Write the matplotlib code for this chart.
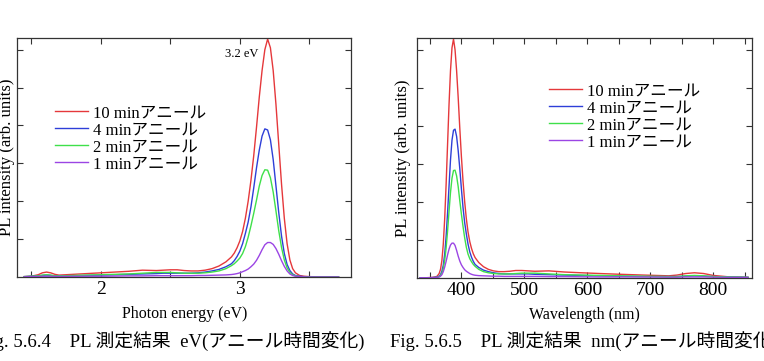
import numpy as np
import matplotlib
matplotlib.use('Agg')
import matplotlib.pyplot as plt

plt.rcParams['font.family'] = ['Liberation Serif', 'Noto Sans CJK JP']

# PL spectra (photon energy in eV, intensity in arb. units)
energy = [1.45, 1.50, 1.55, 1.58, 1.61, 1.64, 1.67, 1.70, 1.80, 1.90, 2.00, 2.10, 2.20, 2.30,
          2.40, 2.45, 2.50, 2.55, 2.60, 2.65, 2.70, 2.75, 2.80, 2.85, 2.90, 2.94, 2.96, 2.98,
          3.00, 3.02, 3.04, 3.06, 3.08, 3.10, 3.12, 3.14, 3.16, 3.18, 3.20, 3.22, 3.24, 3.26,
          3.28, 3.30, 3.32, 3.34, 3.36, 3.38, 3.40, 3.43, 3.46, 3.50, 3.55, 3.60, 3.71]

pl_10min = [0.01, 0.02, 0.06, 0.11, 0.13, 0.11, 0.07, 0.05, 0.07, 0.09, 0.11, 0.13, 0.15, 0.18,
            0.17, 0.18, 0.19, 0.19, 0.17, 0.16, 0.16, 0.18, 0.22, 0.29, 0.40, 0.53, 0.63, 0.77,
            0.95, 1.20, 1.55, 2.00, 2.55, 3.20, 3.95, 4.75, 5.45, 6.00, 6.28, 6.05, 5.45, 4.55,
            3.50, 2.45, 1.55, 0.88, 0.45, 0.22, 0.11, 0.04, 0.02, 0.01, 0.005, 0.0, 0.0]

pl_4min = [0.01, 0.02, 0.03, 0.04, 0.05, 0.04, 0.03, 0.03, 0.03, 0.04, 0.05, 0.06, 0.07, 0.08,
           0.09, 0.10, 0.10, 0.10, 0.10, 0.10, 0.11, 0.13, 0.16, 0.20, 0.27, 0.35, 0.43, 0.54,
           0.68, 0.88, 1.15, 1.45, 1.85, 2.35, 2.88, 3.35, 3.72, 3.91, 3.88, 3.62, 3.10, 2.40,
           1.70, 1.08, 0.62, 0.33, 0.17, 0.08, 0.04, 0.02, 0.01, 0.005, 0.0, 0.0, 0.0]

pl_2min = [0.01, 0.02, 0.03, 0.05, 0.06, 0.05, 0.03, 0.03, 0.04, 0.05, 0.06, 0.07, 0.08, 0.10,
           0.12, 0.12, 0.12, 0.11, 0.10, 0.10, 0.10, 0.11, 0.13, 0.16, 0.22, 0.30, 0.35, 0.42,
           0.50, 0.62, 0.80, 1.05, 1.35, 1.68, 2.03, 2.40, 2.68, 2.83, 2.82, 2.62, 2.24, 1.74,
           1.22, 0.78, 0.45, 0.24, 0.12, 0.06, 0.03, 0.01, 0.005, 0.0, 0.0, 0.0, 0.0]

pl_1min = [0.005, 0.01, 0.015, 0.02, 0.02, 0.02, 0.015, 0.015, 0.02, 0.02, 0.02, 0.025, 0.03, 0.03,
           0.035, 0.035, 0.035, 0.035, 0.035, 0.035, 0.04, 0.04, 0.045, 0.05, 0.055, 0.065, 0.075, 0.09,
           0.11, 0.14, 0.17, 0.21, 0.27, 0.34, 0.44, 0.57, 0.72, 0.85, 0.91, 0.91, 0.86, 0.75,
           0.60, 0.43, 0.28, 0.16, 0.08, 0.04, 0.02, 0.01, 0.005, 0.0, 0.0, 0.0, 0.0]

labels = ['10 minアニール', '4 minアニール', '2 minアニール', '1 minアニール']
colors = ['#e5383b', '#2e3fd8', '#3fe04a', '#9b45e4']
series = [pl_10min, pl_4min, pl_2min, pl_1min]

ev_ticks = [1.5, 2.0, 2.5, 3.0, 3.5]
ev_ticklabels = ['', '2', '', '3', '']
nm_ticks = [350, 400, 450, 500, 550, 600, 650, 700, 750, 800, 850]
nm_ticklabels = ['', '400', '', '500', '', '600', '', '700', '', '800', '']
y_ticks = [1, 2, 3, 4, 5, 6]

# same spectra on a wavelength axis
wavelength = 1240.0 / np.array(energy)

fig = plt.figure(figsize=(7.64, 3.61), dpi=100)
ax1 = fig.add_axes([0.0227, 0.2327, 0.4368, 0.6612])
ax2 = fig.add_axes([0.5462, 0.2307, 0.4385, 0.6632])

for s, c, lab in zip(series, colors, labels):
    ax1.plot(energy, s, color=c, lw=1.0, label=lab)
    ax2.plot(wavelength, s, color=c, lw=1.0, label=lab)

ax1.set_xlim(1.40, 3.80)
ax2.set_xlim(330, 862)
for ax in (ax1, ax2):
    ax.set_ylim(0, 6.30)
    ax.set_yticks(y_ticks)
    ax.set_yticklabels([])
    ax.tick_params(direction='in', length=4, width=0.8, top=True, right=True,
                   labelsize=14, pad=3, colors='#333333', labelcolor='black')
    for sp in ax.spines.values():
        sp.set_linewidth(0.9)
        sp.set_color('#333333')
    ax.set_ylabel('PL intensity (arb. units)', fontsize=12)

ax1.yaxis.set_label_coords(-0.008, 0.5)
ax2.yaxis.set_label_coords(-0.02, 0.5)

ax1.set_xticks(ev_ticks)
ax1.set_xticklabels(ev_ticklabels)
ax2.set_xticks(nm_ticks)
ax2.set_xticklabels(nm_ticklabels)

ax1.set_xlabel('Photon energy (eV)', fontsize=11.5, labelpad=6)
ax2.set_xlabel('Wavelength (nm)', fontsize=11.5, labelpad=6)

ax1.text(3.01, 5.89, '3.2 eV', fontsize=9, ha='center', va='center')

leg_kw = dict(frameon=False, fontsize=12, handlelength=2.0, handletextpad=0.3,
              labelspacing=0.06, borderpad=0, borderaxespad=0, loc='upper left')
ax1.legend(bbox_to_anchor=(0.113, 0.72), **leg_kw)
ax2.legend(bbox_to_anchor=(0.393, 0.812), **leg_kw)

fig.text(-0.027, 0.055, 'Fig. 5.6.4\u3000PL 測定結果  eV(アニール時間変化)', fontsize=13.5,
         ha='left', va='center')
fig.text(0.511, 0.055, 'Fig. 5.6.5\u3000PL 測定結果  nm(アニール時間変化)', fontsize=13.5,
         ha='left', va='center')

plt.savefig('out.png', dpi=100)
